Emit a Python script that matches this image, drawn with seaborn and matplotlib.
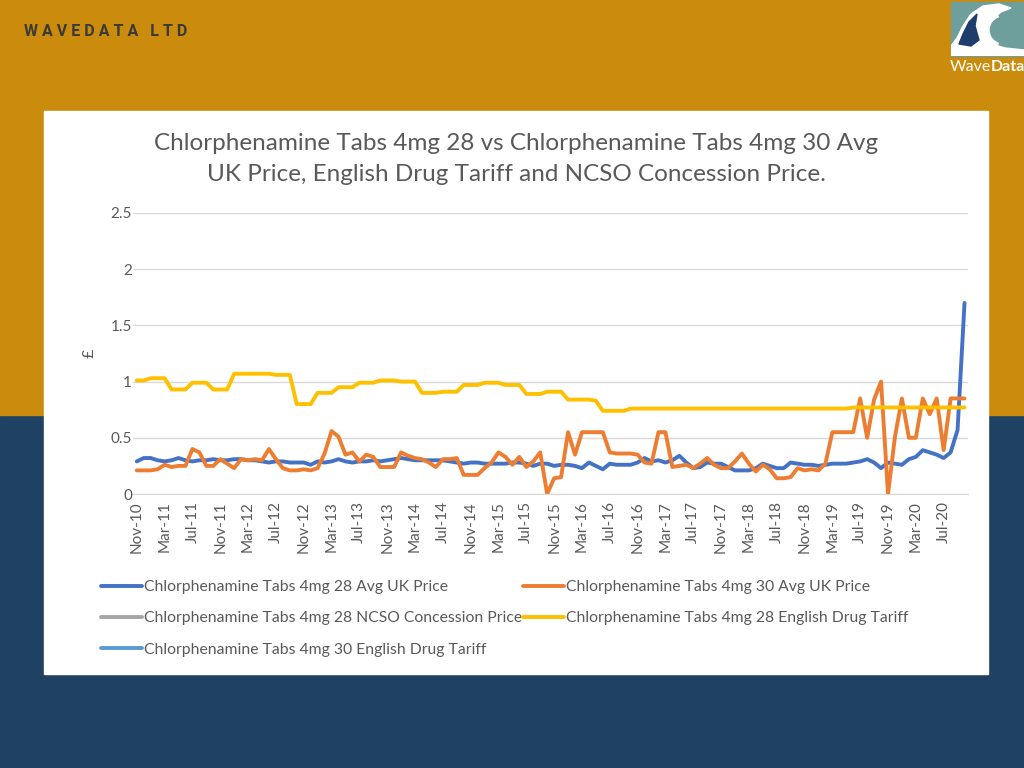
import numpy as np
import pandas as pd
import matplotlib.pyplot as plt
import seaborn as sns
from matplotlib.lines import Line2D
from matplotlib.patches import Rectangle, Wedge, Polygon

# monthly categories, Nov-10 .. Oct-20
months = pd.date_range("2010-11-01", periods=120, freq="MS").strftime("%b-%y").tolist()

avg_28 = [
    0.29, 0.32, 0.32, 0.30, 0.29, 0.30, 0.32, 0.30, 0.29, 0.30,
    0.30, 0.31, 0.30, 0.30, 0.31, 0.31, 0.30, 0.30, 0.29, 0.28,
    0.29, 0.29, 0.28, 0.28, 0.28, 0.26, 0.29, 0.28, 0.29, 0.31,
    0.29, 0.28, 0.29, 0.29, 0.30, 0.29, 0.30, 0.31, 0.32, 0.31,
    0.30, 0.30, 0.30, 0.30, 0.30, 0.29, 0.28, 0.27, 0.28, 0.28,
    0.27, 0.27, 0.27, 0.27, 0.28, 0.28, 0.27, 0.25, 0.27, 0.27,
    0.25, 0.26, 0.26, 0.25, 0.23, 0.28, 0.25, 0.22, 0.27, 0.26,
    0.26, 0.26, 0.28, 0.32, 0.29, 0.30, 0.28, 0.30, 0.34, 0.28,
    0.23, 0.24, 0.28, 0.27, 0.27, 0.24, 0.21, 0.21, 0.21, 0.23,
    0.27, 0.25, 0.23, 0.23, 0.28, 0.27, 0.26, 0.26, 0.25, 0.26,
    0.27, 0.27, 0.27, 0.28, 0.29, 0.31, 0.28, 0.23, 0.28, 0.27,
    0.26, 0.31, 0.33, 0.39, 0.37, 0.35, 0.32, 0.37, 0.57, 1.70,
]

avg_30 = [
    0.21, 0.21, 0.21, 0.22, 0.26, 0.24, 0.25, 0.25, 0.40, 0.37,
    0.25, 0.25, 0.31, 0.27, 0.23, 0.31, 0.30, 0.31, 0.30, 0.40,
    0.31, 0.23, 0.21, 0.21, 0.22, 0.21, 0.23, 0.36, 0.56, 0.51,
    0.35, 0.37, 0.29, 0.35, 0.33, 0.24, 0.24, 0.24, 0.37, 0.34,
    0.32, 0.31, 0.28, 0.24, 0.31, 0.31, 0.32, 0.17, 0.17, 0.17,
    0.23, 0.28, 0.37, 0.33, 0.26, 0.33, 0.24, 0.29, 0.37, 0.00,
    0.14, 0.15, 0.55, 0.35, 0.55, 0.55, 0.55, 0.55, 0.37, 0.36,
    0.36, 0.36, 0.35, 0.28, 0.27, 0.55, 0.55, 0.24, 0.25, 0.26,
    0.23, 0.27, 0.32, 0.26, 0.23, 0.23, 0.29, 0.36, 0.27, 0.20,
    0.26, 0.22, 0.14, 0.14, 0.15, 0.23, 0.21, 0.22, 0.21, 0.27,
    0.55, 0.55, 0.55, 0.55, 0.85, 0.50, 0.84, 1.00, 0.00, 0.51,
    0.85, 0.50, 0.50, 0.85, 0.71, 0.85, 0.39, 0.85, 0.85, 0.85,
]

tariff_28 = [
    1.01, 1.01, 1.03, 1.03, 1.03, 0.93, 0.93, 0.93, 0.99, 0.99,
    0.99, 0.93, 0.93, 0.93, 1.07, 1.07, 1.07, 1.07, 1.07, 1.07,
    1.06, 1.06, 1.06, 0.80, 0.80, 0.80, 0.90, 0.90, 0.90, 0.95,
    0.95, 0.95, 0.99, 0.99, 0.99, 1.01, 1.01, 1.01, 1.00, 1.00,
    1.00, 0.90, 0.90, 0.90, 0.91, 0.91, 0.91, 0.97, 0.97, 0.97,
    0.99, 0.99, 0.99, 0.97, 0.97, 0.97, 0.89, 0.89, 0.89, 0.91,
    0.91, 0.91, 0.84, 0.84, 0.84, 0.84, 0.83, 0.74, 0.74, 0.74,
    0.74, 0.76, 0.76, 0.76, 0.76, 0.76, 0.76, 0.76, 0.76, 0.76,
    0.76, 0.76, 0.76, 0.76, 0.76, 0.76, 0.76, 0.76, 0.76, 0.76,
    0.76, 0.76, 0.76, 0.76, 0.76, 0.76, 0.76, 0.76, 0.76, 0.76,
    0.76, 0.76, 0.76, 0.77, 0.77, 0.77, 0.77, 0.77, 0.77, 0.77,
    0.77, 0.77, 0.77, 0.77, 0.77, 0.77, 0.77, 0.77, 0.77, 0.77,
]

# these two series are in the legend but hold no values
ncso_28 = [np.nan] * len(months)
tariff_30 = [np.nan] * len(months)

names = [
    "Chlorphenamine Tabs 4mg 28 Avg UK Price",
    "Chlorphenamine Tabs 4mg 30 Avg UK Price",
    "Chlorphenamine Tabs 4mg 28 NCSO Concession Price",
    "Chlorphenamine Tabs 4mg 28 English Drug Tariff",
    "Chlorphenamine Tabs 4mg 30 English Drug Tariff",
]
colours = ["#4472C4", "#ED7D31", "#A5A5A5", "#FFC000", "#5B9BD5"]
series = [avg_28, avg_30, ncso_28, tariff_28, tariff_30]

df = pd.concat(
    [pd.DataFrame({"pos": np.arange(len(months)), "month": months, "price": vals, "series": nm})
     for nm, vals in zip(names, series)]
).dropna()

gold = "#CB8B0C"
navy = "#1F4263"
grey_txt = "#595959"
grid_c = "#D9D9D9"

sns.set_style("white")
plt.rcParams["font.family"] = ["Lato", "DejaVu Sans"]

fig = plt.figure(figsize=(10.24, 7.68), dpi=100)
fig.patch.set_facecolor(navy)
fig.add_artist(Rectangle((0, 1 - 415 / 768), 1, 415 / 768, transform=fig.transFigure,
                         color=gold, zorder=-10))
fig.add_artist(Rectangle((44 / 1024, 1 - 674 / 768), 944 / 1024, 563 / 768,
                         transform=fig.transFigure, color="white", zorder=-9))

# header
fig.text(24 / 1024, 1 - 31 / 768, "W A V E D A T A   L T D", fontsize=11.5, fontweight="bold",
         color="#3A3A3A", va="center", ha="left", family=["Roboto", "DejaVu Sans"])

# logo block
fig.add_artist(Rectangle((951 / 1024, 1 - 56 / 768), 73 / 1024, 54 / 768,
                         transform=fig.transFigure, color="#6E9F9C", zorder=-8))
lax = fig.add_axes([951 / 1024, 1 - 56 / 768, 73 / 1024, 54 / 768])
lax.set_xlim(0, 73)
lax.set_ylim(0, 54)
lax.axis("off")
lax.add_patch(Polygon([[0, 0], [0, 10], [6, 18], [12, 30], [20, 42], [32, 50], [48, 52],
                       [60, 48], [50, 44], [40, 36], [34, 24], [40, 12], [54, 8], [73, 6],
                       [73, 0]], color="white"))
lax.add_patch(Polygon([[8, 12], [12, 22], [18, 34], [26, 42], [24, 30], [28, 16], [20, 10]],
                      color="#1E3D6B"))
lax.add_patch(Wedge((52, 26), 18, 110, 250, width=4, color="white"))
fig.text(991 / 1024, 1 - 67 / 768, "Wave", color="white", fontsize=11.5, ha="right",
         va="center", family=["Lato", "DejaVu Sans"])
fig.text(991 / 1024, 1 - 67 / 768, "Data", color="white", fontsize=11.5, ha="left",
         va="center", fontweight="bold", family=["Lato", "DejaVu Sans"])

# main chart
ax = fig.add_axes([133.3 / 1024, 1 - 494 / 768, 834.7 / 1024, 281 / 768])
sns.lineplot(data=df, x="pos", y="price", hue="series",
             hue_order=[names[0], names[1], names[3]],
             palette=[colours[0], colours[1], colours[3]],
             linewidth=2.8, estimator=None, legend=False, ax=ax)

ax.set_xlim(-0.5, len(months) - 0.5)
ax.set_ylim(0, 2.5)
ax.set_yticks([0, 0.5, 1, 1.5, 2, 2.5])
ax.set_yticklabels(["0", "0.5", "1", "1.5", "2", "2.5"])
ax.set_xticks(np.arange(0, len(months), 4))
ax.set_xticklabels(months[::4], rotation=90)
ax.set_xticks(np.arange(-0.5, len(months), 4), minor=True)
ax.tick_params(axis="x", which="major", length=0, pad=5, labelsize=11, labelcolor=grey_txt)
ax.tick_params(axis="x", which="minor", length=5, width=1, color=grid_c)
ax.tick_params(axis="y", length=0, pad=1, labelsize=11, labelcolor=grey_txt)
ax.grid(axis="y", color=grid_c, linewidth=1)
ax.set_axisbelow(True)
for s in ["top", "left", "right"]:
    ax.spines[s].set_visible(False)
ax.spines["bottom"].set_color(grid_c)
ax.set_xlabel("")
ax.set_ylabel("£", fontsize=11.5, color=grey_txt, labelpad=10)

fig.text(516 / 1024, 1 - 159 / 768,
         "Chlorphenamine Tabs 4mg 28 vs Chlorphenamine Tabs 4mg 30 Avg\n"
         "UK Price, English Drug Tariff and NCSO Concession Price.",
         ha="center", va="center", fontsize=17.5, color=grey_txt, linespacing=1.6)

# legend, row order as in the reference (matplotlib fills columns first)
handles = [Line2D([], [], color=c, linewidth=2.8) for c in colours]
order = [0, 2, 4, 1, 3]
fig.legend([handles[i] for i in order], [names[i] for i in order], ncol=2,
           loc="upper left", bbox_to_anchor=(101 / 1024, 1 - 580 / 768), frameon=False,
           fontsize=11.3, labelcolor=grey_txt, handlelength=2.6, handletextpad=0.15,
           columnspacing=0.05, labelspacing=1.1, borderaxespad=0, borderpad=0)

fig.savefig("out.png", dpi=100, facecolor=fig.get_facecolor())
